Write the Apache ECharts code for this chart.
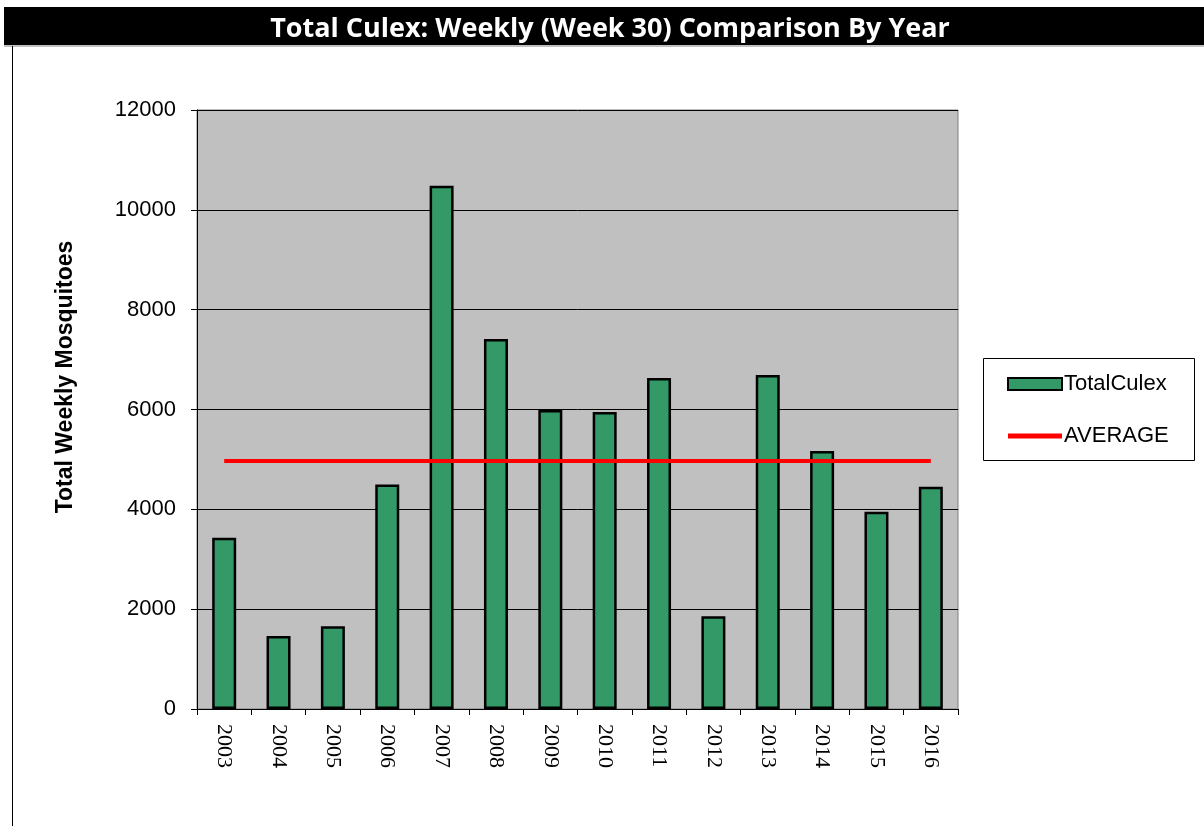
<!DOCTYPE html>
<html>
<head>
<meta charset="utf-8">
<script src="https://cdn.jsdelivr.net/npm/echarts@6/dist/echarts.min.js"></script>
<style>
  html, body { margin: 0; padding: 0; background: #fff; }
  #chart { width: 1204px; height: 826px; }
</style>
</head>
<body>
<div id="chart"></div>
<script>
// 年份与数值
var years = ['2003', '2004', '2005', '2006', '2007', '2008', '2009', '2010', '2011', '2012', '2013', '2014', '2015', '2016'];
var totalCulex = [3430, 1460, 1660, 4500, 10480, 7410, 5990, 5950, 6630, 1860, 6690, 5170, 3950, 4450];
var averageValue = 4970;
var averageLine = years.map(function () { return averageValue; });
var yTicks = [0, 2000, 4000, 6000, 8000, 10000, 12000];

var chart = echarts.init(document.getElementById('chart'));

chart.setOption({
  animation: false,
  graphic: [
    // 标题黑条
    { type: 'rect', left: 4, top: 7, shape: { width: 1200, height: 38 }, style: { fill: '#000' } },
    { type: 'line', shape: { x1: 4, y1: 46, x2: 1204, y2: 46 }, style: { stroke: '#808080', lineWidth: 1 } },
    { type: 'line', shape: { x1: 12.5, y1: 46, x2: 12.5, y2: 826 }, style: { stroke: '#000', lineWidth: 1 } },
    {
      type: 'text', x: 610, y: 29,
      style: { text: 'Total Culex: Weekly (Week 30) Comparison By Year', fill: '#fff', font: 'bold 27px "Open Sans"', align: 'center', verticalAlign: 'middle' }
    },
    {
      type: 'text', x: 66, y: 377, rotation: Math.PI / 2,
      style: { text: 'Total Weekly Mosquitoes', fill: '#000', font: 'bold 23px "Liberation Sans"', align: 'center', verticalAlign: 'middle' }
    },
    // 图例外框
    { type: 'rect', shape: { x: 983.5, y: 358.5, width: 211, height: 102 }, style: { fill: '#fff', stroke: '#000', lineWidth: 1 }, z: -1 }
  ],
  legend: {
    orient: 'vertical',
    left: 1007, top: 373,
    padding: 0,
    itemGap: 30,
    itemWidth: 54, itemHeight: 12,
    textStyle: { fontFamily: 'Liberation Sans', fontSize: 22, color: '#000', padding: [0, 0, 0, -3] },
    data: [
      { name: 'TotalCulex', icon: 'rect' },
      { name: 'AVERAGE', icon: 'path://M0,0 L54,0 L54,5 L0,5 Z' }
    ]
  },
  grid: {
    left: 197, top: 110, width: 761, height: 599,
    show: true,
    backgroundColor: '#c0c0c0',
    borderColor: '#808080', borderWidth: 1
  },
  xAxis: {
    type: 'category',
    data: years,
    boundaryGap: true,
    axisLine: { lineStyle: { color: '#000', width: 1 } },
    axisTick: { show: true, alignWithLabel: false, length: 6, lineStyle: { color: '#000' } },
    axisLabel: {
      rotate: -90, margin: 15,
      fontFamily: 'Liberation Serif', fontSize: 22, color: '#000'
    }
  },
  yAxis: {
    type: 'value',
    min: yTicks[0], max: yTicks[yTicks.length - 1], interval: 2000,
    axisLine: { show: true, lineStyle: { color: '#000', width: 1 } },
    axisTick: { show: true, length: 6, lineStyle: { color: '#000' } },
    axisLabel: {
      fontFamily: 'Liberation Sans', fontSize: 22, color: '#000', margin: 21,
      formatter: function (v) { return String(v); }
    },
    splitLine: { show: true, lineStyle: { color: '#000', width: 1 } }
  },
  series: [
    {
      name: 'TotalCulex',
      type: 'bar',
      data: totalCulex,
      barWidth: 24,
      itemStyle: { color: '#339966', borderColor: '#000', borderWidth: 2.5 }
    },
    {
      name: 'AVERAGE',
      type: 'line',
      data: averageLine,
      symbol: 'none',
      itemStyle: { color: '#ff0000' },
      lineStyle: { color: '#ff0000', width: 4 }
    }
  ]
});
</script>
</body>
</html>
